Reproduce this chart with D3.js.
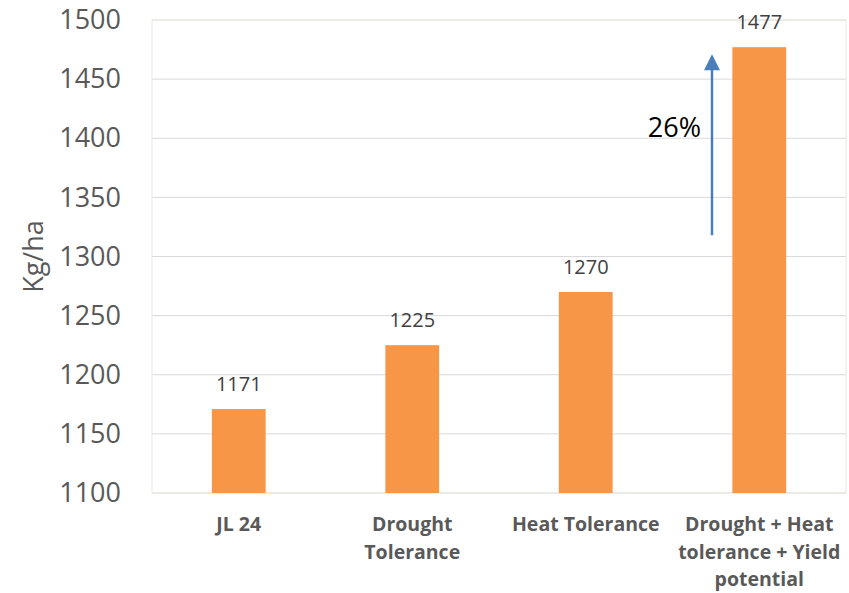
<!DOCTYPE html>
<html>
<head>
<meta charset="utf-8">
<script src="https://cdn.jsdelivr.net/npm/d3@7"></script>
<style>
  html, body { margin: 0; padding: 0; background: #fff; }
  svg { display: block; }
</style>
</head>
<body>
<div id="chart"></div>
<script>
// Yield per trait combination (Kg/ha)
const categories = [
  ["JL 24"],
  ["Drought", "Tolerance"],
  ["Heat Tolerance"],
  ["Drought + Heat", "tolerance + Yield", "potential"]
];
const values = [1171, 1225, 1270, 1477];
const yTicks = [1100, 1150, 1200, 1250, 1300, 1350, 1400, 1450, 1500];
const gainLabel = "26%";
const gainArrow = [1318, 1471]; // arrow span in Kg/ha

const W = 849, H = 593;
const margin = { left: 152, right: 3, top: 20, bottom: 100 };
const font = "'Open Sans', sans-serif";

const svg = d3.select("#chart").append("svg")
  .attr("width", W).attr("height", H);

const x = d3.scaleBand()
  .domain(d3.range(categories.length))
  .range([margin.left, W - margin.right])
  .paddingInner(0.69).paddingOuter(0.345);

const y = d3.scaleLinear()
  .domain([1100, 1500])
  .range([H - margin.bottom, margin.top]);

// horizontal gridlines
svg.append("g").selectAll("line").data(yTicks).join("line")
  .attr("x1", margin.left).attr("x2", W - margin.right)
  .attr("y1", d => y(d)).attr("y2", d => y(d))
  .attr("stroke", "#d9d9d9").attr("stroke-width", 1);

// plot frame
svg.append("rect")
  .attr("x", margin.left).attr("y", margin.top)
  .attr("width", W - margin.right - margin.left)
  .attr("height", y(1100) - margin.top)
  .attr("fill", "none").attr("stroke", "#ebe8df").attr("stroke-width", 1);

// y axis labels
const yAxis = d3.axisLeft(y).tickValues(yTicks).tickFormat(d3.format("d"))
  .tickSize(0).tickPadding(31);
svg.append("g")
  .attr("transform", `translate(${margin.left},0)`)
  .call(yAxis)
  .call(g => g.select(".domain").remove())
  .selectAll("text")
  .attr("font-family", font).attr("font-size", 27).attr("fill", "#595959");

// y axis title
svg.append("text")
  .attr("transform", `translate(43,${(margin.top + y(1100)) / 2}) rotate(-90)`)
  .attr("text-anchor", "middle")
  .attr("font-family", font).attr("font-size", 27).attr("fill", "#595959")
  .text("Kg/ha");

// bars
svg.append("g").selectAll("rect").data(values).join("rect")
  .attr("x", (d, i) => x(i)).attr("width", x.bandwidth())
  .attr("y", d => y(d)).attr("height", d => y(1100) - y(d))
  .attr("fill", "#f79646");

// value labels
svg.append("g").selectAll("text").data(values).join("text")
  .attr("x", (d, i) => x(i) + x.bandwidth() / 2)
  .attr("y", d => y(d) - 18)
  .attr("text-anchor", "middle")
  .attr("font-family", font).attr("font-size", 20).attr("fill", "#404040")
  .text(d => d);

// category labels
const cat = svg.append("g").selectAll("text").data(categories).join("text")
  .attr("x", (d, i) => x(i) + x.bandwidth() / 2)
  .attr("y", 531)
  .attr("text-anchor", "middle")
  .attr("font-family", font).attr("font-size", 19.5).attr("font-weight", "bold")
  .attr("fill", "#595959");
cat.selectAll("tspan").data(d => d).join("tspan")
  .attr("x", function () { return d3.select(this.parentNode).attr("x"); })
  .attr("dy", (d, i) => i === 0 ? 0 : 27.5)
  .text(d => d);

// gain arrow
const ax = 712;
svg.append("line")
  .attr("x1", ax).attr("x2", ax)
  .attr("y1", y(gainArrow[0])).attr("y2", y(gainArrow[1]) + 14)
  .attr("stroke", "#4a7ebb").attr("stroke-width", 2.5);
svg.append("path")
  .attr("d", `M${ax},${y(gainArrow[1])} L${ax - 8},${y(gainArrow[1]) + 16} L${ax + 8},${y(gainArrow[1]) + 16} Z`)
  .attr("fill", "#4a7ebb");

svg.append("text")
  .attr("x", 701).attr("y", 137)
  .attr("text-anchor", "end")
  .attr("font-family", font).attr("font-size", 27).attr("fill", "#000")
  .text(gainLabel);
</script>
</body>
</html>
